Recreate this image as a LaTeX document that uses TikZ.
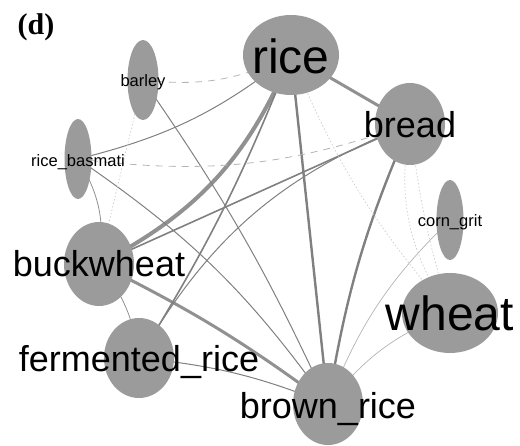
\documentclass[tikz,border=0pt]{standalone}
\usepackage{fontspec}
\setmainfont{Liberation Sans}
\newfontfamily\panelfont{Liberation Serif}
\usetikzlibrary{shapes.geometric}
\definecolor{nodegray}{RGB}{155,155,155}
\definecolor{edgedark}{RGB}{128,128,128}
\definecolor{edgemid}{RGB}{145,145,145}
\definecolor{edgelight}{RGB}{180,180,180}
\definecolor{edgefaint}{RGB}{205,205,205}
\pgfdeclarelayer{edgelayer}
\pgfsetlayers{edgelayer,main}
\tikzset{
  nd/.style={ellipse, fill=nodegray, draw=none, inner sep=0pt},
  lbl/.style={inner sep=0pt, text=black},
  bigf/.style={font=\fontsize{48}{50}\selectfont},
  midf/.style={font=\fontsize{36}{38}\selectfont},
  smallf/.style={font=\fontsize{16.5}{18}\selectfont},
  ewide/.style={draw=edgemid, line width=4pt},
  ethree/.style={draw=edgemid, line width=3pt},
  etwo/.style={draw=edgedark, line width=2.4pt},
  emed/.style={draw=edgedark, line width=1.6pt},
  eone/.style={draw=edgedark, line width=1pt},
  ethin/.style={draw=edgemid, line width=0.8pt},
  elight/.style={draw=edgelight, line width=0.7pt},
  edash/.style={draw=edgelight, line width=0.8pt, dash pattern=on 7pt off 6pt},
  edot/.style={draw=edgefaint, line width=0.7pt, dash pattern=on 1.5pt off 2pt},
}
\begin{document}
\begin{tikzpicture}[x=1pt,y=-1pt]
\useasboundingbox (0,0) rectangle (520,446);
\node[font=\panelfont\bfseries\fontsize{30}{32}\selectfont, inner sep=0pt] (panel) at (36,27) {(d)};

\node[nd, minimum width=96pt, minimum height=80pt, label={[lbl,bigf,yshift=-1pt]center:rice}] (rice) at (291,55) {};
\node[nd, minimum width=70pt, minimum height=82pt, label={[lbl,midf,yshift=-1pt]center:bread}] (bread) at (410,124) {};
\node[nd, minimum width=31pt, minimum height=80pt, label={[lbl,smallf,yshift=-2pt]center:barley}] (barley) at (143,80) {};
\node[nd, minimum width=27pt, minimum height=80pt, label={[lbl,smallf,yshift=-3pt]center:rice\_basmati}] (basmati) at (78,159) {};
\node[nd, minimum width=27pt, minimum height=80pt, label={[lbl,smallf,yshift=-2pt]center:corn\_grit}] (corn) at (450,220) {};
\node[nd, minimum width=70pt, minimum height=84pt, label={[lbl,midf,yshift=0pt]center:buckwheat}] (buckwheat) at (99,264) {};
\node[nd, minimum width=70pt, minimum height=80pt, label={[lbl,midf,yshift=-4pt]center:fermented\_rice}] (fermented) at (139,358) {};
\node[nd, minimum width=96pt, minimum height=80pt, label={[lbl,bigf,yshift=0pt]center:wheat}] (wheat) at (450,313) {};
\node[nd, minimum width=70pt, minimum height=82pt, label={[lbl,midf,yshift=-5pt]center:brown\_rice}] (brown) at (328,404) {};

\begin{pgfonlayer}{edgelayer}
\draw[ewide] (rice.center) to[bend left=20] (buckwheat.center);
\draw[ethree] (rice.center) -- (bread.center);
\draw[ethree] (buckwheat.center) to[bend left=5] (brown.center);
\draw[etwo] (rice.center) -- (brown.center);
\draw[etwo] (bread.center) to[bend right=7] (brown.center);
\draw[emed] (bread.center) -- (buckwheat.center);
\draw[emed] (rice.center) to[bend left=5] (fermented.center);
\draw[eone] (bread.center) to[bend right=19] (fermented.center);
\draw[eone] (basmati.center) to[bend left=10] (brown.center);
\draw[eone] (barley.center) to[bend left=5] (brown.center);
\draw[eone] (rice.center) to[bend left=12] (basmati.center);
\draw[eone] (fermented.center) to[bend left=8] (brown.center);
\draw[ethin] (buckwheat.center) to[bend left=15] (fermented.center);
\draw[ethin] (basmati.center) to[bend left=20] (buckwheat.center);
\draw[elight] (corn.center) to[bend right=12] (brown.center);
\draw[elight] (wheat.center) to[bend right=15] (brown.center);
\draw[edash] (barley.center) to[bend right=16] (rice.center);
\draw[edash] (basmati.center) to[bend right=13] (bread.center);
\draw[edot] (barley.center) -- (buckwheat.center);
\draw[edot] (rice.center) to[bend right=9] (wheat.center);
\draw[edot] (bread.center) to[bend right=22] (wheat.center);
\draw[edot] (bread.center) to[bend right=5] (wheat.center);
\end{pgfonlayer}
\end{tikzpicture}
\end{document}
